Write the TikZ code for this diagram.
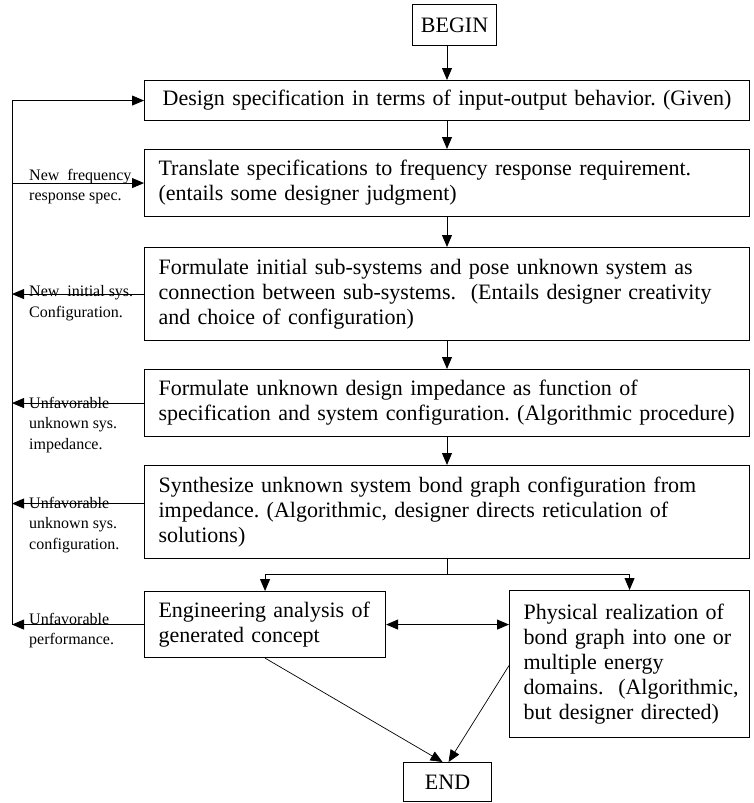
\documentclass[tikz,border=0pt]{standalone}
\usepackage{fontspec}
\setmainfont{Liberation Serif}
\frenchspacing
\usetikzlibrary{arrows.meta}
\begin{document}
\begin{tikzpicture}[x=1pt,y=-1pt,
  stage/.style={draw,line width=1.1pt,anchor=north west,inner xsep=14pt,inner ysep=0pt,
    align=left,font=\fontsize{22}{25}\selectfont},
  term/.style={draw,line width=1.1pt,anchor=north west,inner sep=0pt,
    font=\fontsize{22}{25}\selectfont},
  note/.style={anchor=base west,inner sep=0pt,align=left,font=\fontsize{16}{20.5}\selectfont},
  arr/.style={line width=0.9pt,-{Triangle[length=12pt,width=10pt]}},
  arrboth/.style={line width=0.9pt,{Triangle[length=12pt,width=10pt]}-{Triangle[length=12pt,width=10pt]}},
  thin arr/.style={line width=0.7pt,-{Triangle[length=12pt,width=10pt]}}]
\useasboundingbox (0,0) rectangle (754,803);

% main column of stages
\node[term,minimum width=84pt,minimum height=41pt] (begin) at (412,4) {BEGIN};
\node[stage,text width=577pt,align=center,minimum width=605pt,minimum height=40pt] (s1) at (144,80)
  {Design specification in terms of input-output behavior. (Given)};
\node[stage,text width=577pt,minimum height=67pt] (s2) at (144,149)
  {Translate specifications to frequency response requirement.\\(entails some designer judgment)};
\node[stage,text width=577pt,minimum height=93pt] (s3) at (144,247)
  {Formulate initial sub-systems and pose unknown system as\\connection between sub-systems.\ \ (Entails designer creativity\\and choice of configuration)};
\node[stage,text width=577pt,minimum height=67pt] (s4) at (144,369)
  {Formulate unknown design impedance as function of\\specification and system configuration. (Algorithmic procedure)};
\node[stage,text width=577pt,minimum height=93pt] (s5) at (144,465)
  {Synthesize unknown system bond graph configuration from\\impedance. (Algorithmic, designer directs reticulation of\\solutions)};
\node[stage,text width=213pt,minimum height=66pt] (eng) at (144,591)
  {Engineering analysis of\\generated concept};
\node[stage,text width=212pt,minimum height=147pt] (phys) at (509,590)
  {Physical realization of\\bond graph into one or\\multiple energy\\\mbox{domains.\ \ (Algorithmic,}\\but designer directed)};
\node[term,minimum width=88pt,minimum height=39pt] (end) at (403,762) {END};

% feedback labels (placed by the baseline of their last line)
\node[note] (n2) at (29,200.5) {New\ \ frequency\\response spec.};
\node[note] (n3) at (29,317) {New\ \ initial sys.\\Configuration.};
\node[note] (n4) at (29,449) {Unfavorable\\unknown sys.\\impedance.};
\node[note] (n5) at (29,549) {Unfavorable\\unknown sys.\\configuration.};
\node[note] (n6) at (29,644.5) {Unfavorable\\performance.};

% guide coordinates
\coordinate (ax) at (447,0);
\coordinate (lx) at (12,0);
\coordinate (split) at (447,574);

% forward flow
\draw[arr] (begin.south -| ax) -- (s1.north -| ax);
\draw[arr] (s1.south -| ax) -- (s2.north -| ax);
\draw[arr] (s2.south -| ax) -- (s3.north -| ax);
\draw[arr] (s3.south -| ax) -- (s4.north -| ax);
\draw[arr] (s4.south -| ax) -- (s5.north -| ax);
\draw[line width=0.9pt] (s5.south -| ax) -- (split);
\draw[arr] (split) -| (eng.north);
\draw[arr] (split) -| (phys.north);
\draw[arrboth] (eng.east) -- (eng.east -| phys.west);
\draw[thin arr] (eng.south) -- ([xshift=-5pt]end.north);
\draw[thin arr] ([yshift=-1.5pt]phys.west) -- ([xshift=1pt]end.north);

% feedback loop
\draw[arr] (eng.west -| lx) |- (s1.west);
\draw[arr] (s2.west -| lx) -- (s2.west);
\draw[arr] (s3.west) -- (s3.west -| lx);
\draw[arr] (s4.west) -- (s4.west -| lx);
\draw[arr] ([yshift=8.5pt]s5.west) -- ([yshift=8.5pt]s5.west -| lx);
\draw[arr] (eng.west) -- (eng.west -| lx);
\end{tikzpicture}
\end{document}
